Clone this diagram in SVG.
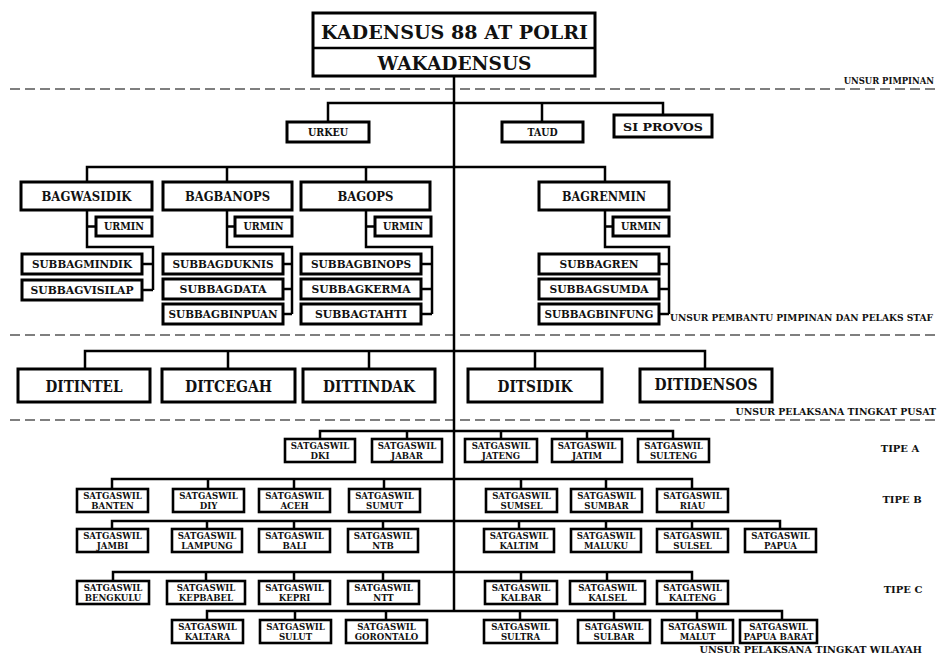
<svg xmlns="http://www.w3.org/2000/svg" width="940" height="659" viewBox="0 0 940 659">
<style>
.b{fill:#fff;stroke:#000;stroke-width:3}
.s{fill:#fff;stroke:#000;stroke-width:2.6}
.c{fill:none;stroke:#000;stroke-width:2.5}
.d{fill:none;stroke:#555;stroke-width:1.6;stroke-dasharray:10 5}
text{font-family:"DejaVu Serif","Liberation Serif",serif;font-weight:bold;fill:#111;text-anchor:middle}
.t1{font-size:18px}
.t2{font-size:13px}
.t3{font-size:10.5px}
.t4{font-size:11px}
.t5{font-size:16px}
.sg{font-size:8.6px}
.lb{text-anchor:end}
.tp{font-size:10px}
</style>
<rect width="940" height="659" fill="#fff"/>

<g id="dividers">
<line class="d" x1="10" y1="89" x2="940" y2="89"/>
<line class="d" x1="10" y1="335" x2="940" y2="335"/>
<line class="d" x1="10" y1="420" x2="940" y2="420"/>
<text class="lb" x="934" y="84" font-size="8.45">UNSUR PIMPINAN</text>
<text class="lb" x="933" y="321" font-size="9.1">UNSUR PEMBANTU PIMPINAN DAN PELAKS STAF</text>
<text class="lb" x="936" y="415" font-size="9.4">UNSUR PELAKSANA TINGKAT PUSAT</text>
<text class="lb" x="922" y="653" font-size="9.7">UNSUR PELAKSANA TINGKAT WILAYAH</text>
<text class="tp" x="900" y="452">TIPE A</text>
<text class="tp" x="902" y="503">TIPE B</text>
<text class="tp" x="903" y="593">TIPE C</text>
</g>

<g id="connectors">
<line class="c" x1="454" y1="76" x2="454" y2="611"/>
<path class="c" d="M328 122V103H663V115M542 103V122"/>
<path class="c" d="M87 182V167H605V182M227 167V182M366 167V182"/>
<path class="c" d="M87 210V247H153V290M87 226.5H96M142 264H153M142 290H153"/>
<path class="c" d="M227 210V247H292V314M227 226.5H235M283 264H292M283 289H292M283 314H292"/>
<path class="c" d="M366 210V247H432V314M366 226.5H375M421 264H432M421 289H432M421 314H432"/>
<path class="c" d="M605 210V247H669V314M605 226.5H613M659 264H669M659 289H669M659 314H669"/>
<path class="c" d="M85 369V351H705V369M228 351V369M369 351V369M535 351V369"/>
<path class="c" d="M320 439V431H673V439M407 431V439M501 431V439M587 431V439"/>
<path class="c" d="M112 489V479H692V489M208 479V489M294 479V489M384 479V489M521 479V489M606 479V489"/>
<path class="c" d="M112 529V521H780V529M207 521V529M294 521V529M383 521V529M519 521V529M606 521V529M692 521V529"/>
<path class="c" d="M113 581V572H692V581M206 572V581M294 572V581M383 572V581M521 572V581M607 572V581"/>
<path class="c" d="M207 620V611H782V620M295 611V620M386 611V620M520 611V620M614 611V620M697 611V620"/>
</g>

<g id="kadensus">
<rect class="b" x="313" y="13" width="282" height="63"/>
<line class="c" x1="313" y1="48" x2="595" y2="48" stroke-width="3"/>
<text class="t1" x="454.5" y="39" textLength="267" lengthAdjust="spacingAndGlyphs">KADENSUS 88 AT POLRI</text>
<text class="t1" x="454.5" y="70" font-size="19" textLength="154" lengthAdjust="spacingAndGlyphs">WAKADENSUS</text>
</g>

<g id="urkeu"><rect class="b" x="287" y="122" width="82" height="20"/><text class="t3" x="328" y="136" textLength="40" lengthAdjust="spacingAndGlyphs">URKEU</text></g>
<g id="taud"><rect class="b" x="502" y="122" width="81" height="20"/><text class="t3" x="542.5" y="136" textLength="30" lengthAdjust="spacingAndGlyphs">TAUD</text></g>
<g id="siprovos"><rect class="b" x="614" y="115" width="98" height="22"/><text class="t4" x="663" y="131" font-size="12" textLength="80" lengthAdjust="spacingAndGlyphs">SI PROVOS</text></g>

<g id="bagwasidik">
<rect class="b" x="21" y="182" width="131" height="28"/><text class="t2" x="86.5" y="201" textLength="90" lengthAdjust="spacingAndGlyphs">BAGWASIDIK</text>
<rect class="b" x="96" y="217" width="56" height="19"/><text class="t3" x="124" y="230" textLength="40" lengthAdjust="spacingAndGlyphs">URMIN</text>
<rect class="b" x="22" y="254" width="120" height="20"/><text class="t4" x="82" y="268" textLength="100" lengthAdjust="spacingAndGlyphs">SUBBAGMINDIK</text>
<rect class="b" x="22" y="280" width="120" height="20"/><text class="t4" x="82" y="294" textLength="103" lengthAdjust="spacingAndGlyphs">SUBBAGVISILAP</text>
</g>

<g id="bagbanops">
<rect class="b" x="163" y="182" width="129" height="28"/><text class="t2" x="227.5" y="201" textLength="85" lengthAdjust="spacingAndGlyphs">BAGBANOPS</text>
<rect class="b" x="235" y="217" width="57" height="19"/><text class="t3" x="263.5" y="230" textLength="40" lengthAdjust="spacingAndGlyphs">URMIN</text>
<rect class="b" x="163" y="254" width="120" height="20"/><text class="t4" x="223" y="268" textLength="101" lengthAdjust="spacingAndGlyphs">SUBBAGDUKNIS</text>
<rect class="b" x="163" y="279" width="120" height="20"/><text class="t4" x="223" y="293" textLength="87" lengthAdjust="spacingAndGlyphs">SUBBAGDATA</text>
<rect class="b" x="163" y="304" width="120" height="20"/><text class="t4" x="223" y="318" textLength="109" lengthAdjust="spacingAndGlyphs">SUBBAGBINPUAN</text>
</g>

<g id="bagops">
<rect class="b" x="301" y="182" width="129" height="28"/><text class="t2" x="365.5" y="201" textLength="56" lengthAdjust="spacingAndGlyphs">BAGOPS</text>
<rect class="b" x="375" y="217" width="56" height="19"/><text class="t3" x="403" y="230" textLength="40" lengthAdjust="spacingAndGlyphs">URMIN</text>
<rect class="b" x="301" y="254" width="120" height="20"/><text class="t4" x="361" y="268" textLength="100" lengthAdjust="spacingAndGlyphs">SUBBAGBINOPS</text>
<rect class="b" x="301" y="279" width="120" height="20"/><text class="t4" x="361" y="293" textLength="99" lengthAdjust="spacingAndGlyphs">SUBBAGKERMA</text>
<rect class="b" x="301" y="304" width="120" height="20"/><text class="t4" x="361" y="318" textLength="92" lengthAdjust="spacingAndGlyphs">SUBBAGTAHTI</text>
</g>

<g id="bagrenmin">
<rect class="b" x="539" y="182" width="130" height="28"/><text class="t2" x="604" y="201" textLength="84" lengthAdjust="spacingAndGlyphs">BAGRENMIN</text>
<rect class="b" x="613" y="217" width="56" height="19"/><text class="t3" x="641" y="230" textLength="40" lengthAdjust="spacingAndGlyphs">URMIN</text>
<rect class="b" x="539" y="254" width="120" height="20"/><text class="t4" x="599" y="268" textLength="79" lengthAdjust="spacingAndGlyphs">SUBBAGREN</text>
<rect class="b" x="539" y="279" width="120" height="20"/><text class="t4" x="599" y="293" textLength="99" lengthAdjust="spacingAndGlyphs">SUBBAGSUMDA</text>
<rect class="b" x="539" y="304" width="120" height="20"/><text class="t4" x="599" y="318" textLength="109" lengthAdjust="spacingAndGlyphs">SUBBAGBINFUNG</text>
</g>

<g id="ditintel"><rect class="b" x="18" y="369" width="132" height="33"/><text class="t5" x="84" y="392" textLength="77" lengthAdjust="spacingAndGlyphs">DITINTEL</text></g>
<g id="ditcegah"><rect class="b" x="162" y="369" width="133" height="33"/><text class="t5" x="228.5" y="392" textLength="87" lengthAdjust="spacingAndGlyphs">DITCEGAH</text></g>
<g id="dittindak"><rect class="b" x="303" y="369" width="132" height="33"/><text class="t5" x="369" y="392" textLength="92" lengthAdjust="spacingAndGlyphs">DITTINDAK</text></g>
<g id="ditsidik"><rect class="b" x="468" y="369" width="134" height="33"/><text class="t5" x="535" y="392" textLength="75" lengthAdjust="spacingAndGlyphs">DITSIDIK</text></g>
<g id="ditidensos"><rect class="b" x="640" y="369" width="132" height="33"/><text class="t5" x="706" y="390" textLength="103" lengthAdjust="spacingAndGlyphs">DITIDENSOS</text></g>

<g id="sat-dki"><rect class="s" x="285" y="439" width="70" height="23"/><text class="sg" x="320" y="449">SATGASWIL</text><text class="sg" x="320" y="459">DKI</text></g>
<g id="sat-jabar"><rect class="s" x="372" y="439" width="70" height="23"/><text class="sg" x="407" y="449">SATGASWIL</text><text class="sg" x="407" y="459">JABAR</text></g>
<g id="sat-jateng"><rect class="s" x="465" y="439" width="72" height="23"/><text class="sg" x="501" y="449">SATGASWIL</text><text class="sg" x="501" y="459">JATENG</text></g>
<g id="sat-jatim"><rect class="s" x="552" y="439" width="70" height="23"/><text class="sg" x="587" y="449">SATGASWIL</text><text class="sg" x="587" y="459">JATIM</text></g>
<g id="sat-sulteng"><rect class="s" x="638" y="439" width="71" height="23"/><text class="sg" x="673.5" y="449">SATGASWIL</text><text class="sg" x="673.5" y="459">SULTENG</text></g>

<g id="sat-banten"><rect class="s" x="77" y="489" width="71" height="23"/><text class="sg" x="112.5" y="499">SATGASWIL</text><text class="sg" x="112.5" y="509">BANTEN</text></g>
<g id="sat-diy"><rect class="s" x="173" y="489" width="71" height="23"/><text class="sg" x="208.5" y="499">SATGASWIL</text><text class="sg" x="208.5" y="509">DIY</text></g>
<g id="sat-aceh"><rect class="s" x="259" y="489" width="71" height="23"/><text class="sg" x="294.5" y="499">SATGASWIL</text><text class="sg" x="294.5" y="509">ACEH</text></g>
<g id="sat-sumut"><rect class="s" x="349" y="489" width="71" height="23"/><text class="sg" x="384.5" y="499">SATGASWIL</text><text class="sg" x="384.5" y="509">SUMUT</text></g>
<g id="sat-sumsel"><rect class="s" x="486" y="489" width="71" height="23"/><text class="sg" x="521.5" y="499">SATGASWIL</text><text class="sg" x="521.5" y="509">SUMSEL</text></g>
<g id="sat-sumbar"><rect class="s" x="571" y="489" width="71" height="23"/><text class="sg" x="606.5" y="499">SATGASWIL</text><text class="sg" x="606.5" y="509">SUMBAR</text></g>
<g id="sat-riau"><rect class="s" x="657" y="489" width="71" height="23"/><text class="sg" x="692.5" y="499">SATGASWIL</text><text class="sg" x="692.5" y="509">RIAU</text></g>

<g id="sat-jambi"><rect class="s" x="77" y="529" width="71" height="23"/><text class="sg" x="112.5" y="539">SATGASWIL</text><text class="sg" x="112.5" y="549">JAMBI</text></g>
<g id="sat-lampung"><rect class="s" x="172" y="529" width="70" height="23"/><text class="sg" x="207" y="539">SATGASWIL</text><text class="sg" x="207" y="549">LAMPUNG</text></g>
<g id="sat-bali"><rect class="s" x="259" y="529" width="71" height="23"/><text class="sg" x="294.5" y="539">SATGASWIL</text><text class="sg" x="294.5" y="549">BALI</text></g>
<g id="sat-ntb"><rect class="s" x="348" y="529" width="70" height="23"/><text class="sg" x="383" y="539">SATGASWIL</text><text class="sg" x="383" y="549">NTB</text></g>
<g id="sat-kaltim"><rect class="s" x="484" y="529" width="70" height="23"/><text class="sg" x="519" y="539">SATGASWIL</text><text class="sg" x="519" y="549">KALTIM</text></g>
<g id="sat-maluku"><rect class="s" x="571" y="529" width="70" height="23"/><text class="sg" x="606" y="539">SATGASWIL</text><text class="sg" x="606" y="549">MALUKU</text></g>
<g id="sat-sulsel"><rect class="s" x="657" y="529" width="71" height="23"/><text class="sg" x="692.5" y="539">SATGASWIL</text><text class="sg" x="692.5" y="549">SULSEL</text></g>
<g id="sat-papua"><rect class="s" x="745" y="529" width="71" height="23"/><text class="sg" x="780.5" y="539">SATGASWIL</text><text class="sg" x="780.5" y="549">PAPUA</text></g>

<g id="sat-bengkulu"><rect class="s" x="77" y="581" width="72" height="23"/><text class="sg" x="113" y="591">SATGASWIL</text><text class="sg" x="113" y="601">BENGKULU</text></g>
<g id="sat-kepbabel"><rect class="s" x="167" y="581" width="78" height="23"/><text class="sg" x="206" y="591">SATGASWIL</text><text class="sg" x="206" y="601">KEPBABEL</text></g>
<g id="sat-kepri"><rect class="s" x="259" y="581" width="71" height="23"/><text class="sg" x="294.5" y="591">SATGASWIL</text><text class="sg" x="294.5" y="601">KEPRI</text></g>
<g id="sat-ntt"><rect class="s" x="348" y="581" width="71" height="23"/><text class="sg" x="383.5" y="591">SATGASWIL</text><text class="sg" x="383.5" y="601">NTT</text></g>
<g id="sat-kalbar"><rect class="s" x="485" y="581" width="72" height="23"/><text class="sg" x="521" y="591">SATGASWIL</text><text class="sg" x="521" y="601">KALBAR</text></g>
<g id="sat-kalsel"><rect class="s" x="570" y="581" width="75" height="23"/><text class="sg" x="607.5" y="591">SATGASWIL</text><text class="sg" x="607.5" y="601">KALSEL</text></g>
<g id="sat-kalteng"><rect class="s" x="657" y="581" width="71" height="23"/><text class="sg" x="692.5" y="591">SATGASWIL</text><text class="sg" x="692.5" y="601">KALTENG</text></g>

<g id="sat-kaltara"><rect class="s" x="172" y="620" width="71" height="23"/><text class="sg" x="207.5" y="630">SATGASWIL</text><text class="sg" x="207.5" y="640">KALTARA</text></g>
<g id="sat-sulut"><rect class="s" x="260" y="620" width="71" height="23"/><text class="sg" x="295.5" y="630">SATGASWIL</text><text class="sg" x="295.5" y="640">SULUT</text></g>
<g id="sat-gorontalo"><rect class="s" x="346" y="620" width="81" height="23"/><text class="sg" x="386.5" y="630">SATGASWIL</text><text class="sg" x="386.5" y="640">GORONTALO</text></g>
<g id="sat-sultra"><rect class="s" x="484" y="620" width="73" height="23"/><text class="sg" x="520.5" y="630">SATGASWIL</text><text class="sg" x="520.5" y="640">SULTRA</text></g>
<g id="sat-sulbar"><rect class="s" x="578" y="620" width="72" height="23"/><text class="sg" x="614" y="630">SATGASWIL</text><text class="sg" x="614" y="640">SULBAR</text></g>
<g id="sat-malut"><rect class="s" x="662" y="620" width="71" height="23"/><text class="sg" x="697.5" y="630">SATGASWIL</text><text class="sg" x="697.5" y="640">MALUT</text></g>
<g id="sat-papuabarat"><rect class="s" x="740" y="620" width="77" height="23"/><text class="sg" x="778.5" y="630">SATGASWIL</text><text class="sg" x="778.5" y="640" textLength="70" lengthAdjust="spacingAndGlyphs">PAPUA BARAT</text></g>
</svg>
